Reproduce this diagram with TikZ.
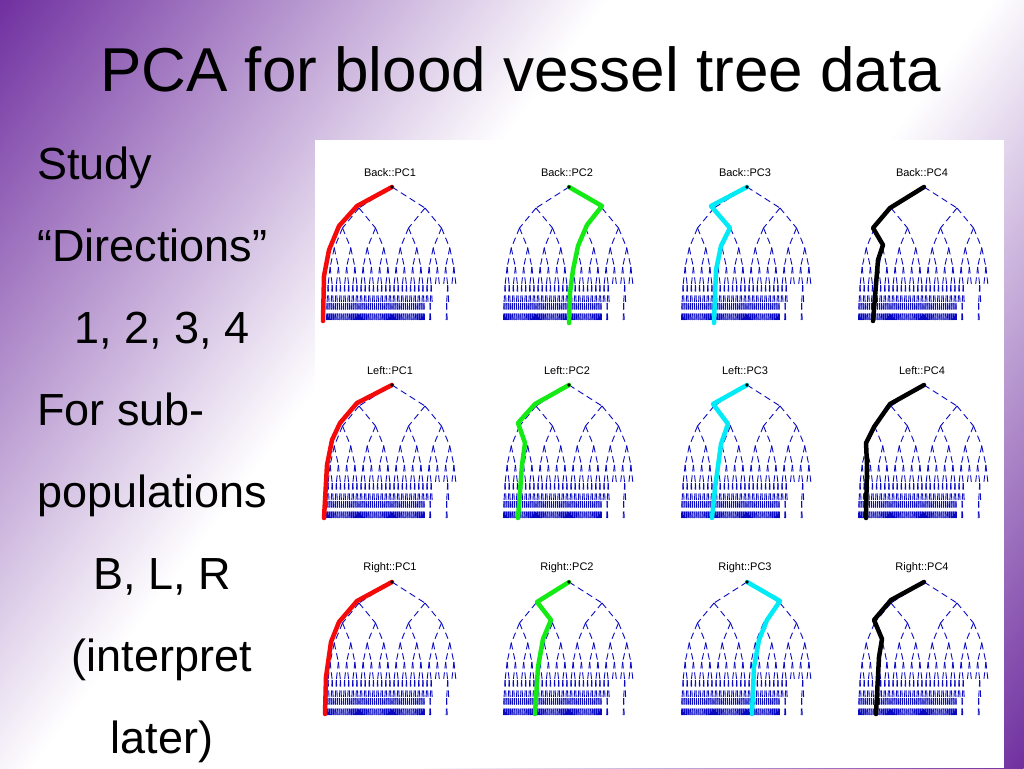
\documentclass[tikz,border=0pt]{standalone}
\usepackage{fontspec}
\setmainfont{Liberation Sans}
\definecolor{vpurple}{RGB}{112,48,160}
\definecolor{tblue}{RGB}{10,10,195}
\definecolor{pcred}{RGB}{245,10,10}
\definecolor{pcgreen}{RGB}{20,235,20}
\definecolor{pccyan}{RGB}{0,235,245}
\pgfdeclarehorizontalshading{bgshade}{100bp}{color(0bp)=(vpurple); color(25bp)=(vpurple); color(44bp)=(white); color(56bp)=(white); color(75bp)=(vpurple); color(100bp)=(vpurple)}
\tikzset{
  ptitle/.style={font=\fontsize{11}{12}\selectfont, inner sep=0pt, anchor=center},
  bigtext/.style={font=\fontsize{45}{50}\selectfont, inner sep=0pt},
  tline/.style={draw=tblue, line width=0.9pt, dash pattern=on 6.5pt off 4pt},
  pcline/.style={line width=4.5pt, line join=round, line cap=round}
}
% #1 x, #2 y, #3 name, #4 title, #5 colour, #6 path
\newcommand{\vtree}[6]{%
\begin{scope}[shift={(#1,#2)}]
  \node[ptitle] (#3) at (-2,-14) {#4};
  \foreach \lv/\ya/\yb in {1/0/21,2/21/41,3/41/61,4/61/80,5/80/98,6/98/116,7/116/134}{
    \pgfmathsetmacro{\tH}{66/2^\lv}
    \pgfmathsetmacro{\tS}{66*(1-2^(1-\lv))}
    \pgfmathsetmacro{\tP}{132/2^(\lv-1)}
    \pgfmathtruncatemacro{\tN}{2^(\lv-1)-1}
    \foreach \ix in {0,...,\tN}{
      \pgfmathtruncatemacro{\tok}{(\lv<6) || (\lv==6 && (\ix<=25 || \ix==29)) || (\lv==7 && (\ix<=47 || \ix==50 || \ix==58))}
      \ifnum\tok=1
        \pgfmathsetmacro{\tX}{-\tS+\ix*\tP}
        \draw[tline] (\tX,\ya) -- (\tX-\tH,\yb);
        \draw[tline] (\tX,\ya) -- (\tX+\tH,\yb);
      \fi
    }
  }
  \draw[pcline,draw=#5] #6;
  \fill (0,0) circle (1.8);
\end{scope}}
\begin{document}
\begin{tikzpicture}[x=1pt,y=-1pt]
\useasboundingbox (0,0) rectangle (1024,768);
\begin{scope}
  \clip (0,0) rectangle (1024,768);
  \begin{scope}[transform canvas={shift={(512,384)}, rotate=-36.87}]
    \shade[shading=bgshade] (-640,-700) rectangle (640,700);
  \end{scope}
\end{scope}
\node[font=\fontsize{62}{70}\selectfont, inner sep=0pt, anchor=base west] (title) at (100,91) {PCA for blood vessel tree data};
\node[bigtext, anchor=base west] (s1) at (37,179) {Study};
\node[bigtext, anchor=base west] (s2) at (37,261) {“Directions”};
\node[bigtext, anchor=base] (s3) at (162,343) {1, 2, 3, 4};
\node[bigtext, anchor=base west] (s4) at (37,425) {For sub-};
\node[bigtext, anchor=base west] (s5) at (37,507) {populations};
\node[bigtext, anchor=base] (s6) at (162,589) {B, L, R};
\node[bigtext, anchor=base] (s7) at (162,671) {(interpret};
\node[bigtext, anchor=base] (s8) at (162,753) {later)};
\fill[white] (315,140) rectangle (1004,768);
% row 1
\vtree{392}{187}{b1}{Back::PC1}{pcred}{(0,0) -- (-35,19) -- (-53,39) -- (-63,63) -- (-68,89) -- (-69,134)}
\vtree{569}{187}{b2}{Back::PC2}{pcgreen}{(0,0) -- (33,19) -- (18,38) -- (9,59) -- (4,83) -- (1,106) -- (0,136)}
\vtree{747}{187}{b3}{Back::PC3}{pccyan}{(0,0) -- (-36,19) -- (-17,41) -- (-26,59) -- (-31,83) -- (-33,136)}
\vtree{924}{187}{b4}{Back::PC4}{black}{(0,0) -- (-34,21) -- (-51,41) -- (-41,58) -- (-46,73) -- (-51,134)}
% row 2
\vtree{392}{385}{l1}{Left::PC1}{pcred}{(0,0) -- (-35,18) -- (-52,38) -- (-60,55) -- (-65,80) -- (-68,133)}
\vtree{569}{385}{l2}{Left::PC2}{pcgreen}{(0,0) -- (-34,19) -- (-51,38) -- (-44,58) -- (-47,80) -- (-51,133)}
\vtree{747}{385}{l3}{Left::PC3}{pccyan}{(0,0) -- (-34,19) -- (-19,39) -- (-26,59) -- (-32,103) -- (-35,133)}
\vtree{924}{385}{l4}{Left::PC4}{black}{(0,0) -- (-34,19) -- (-50,42) -- (-58,58) -- (-57,80) -- (-58,133)}
% row 3
\vtree{392}{582}{r1}{Right::PC1}{pcred}{(0,0) -- (-35,19) -- (-53,40) -- (-61,60) -- (-66,95) -- (-67,132)}
\vtree{569}{582}{r2}{Right::PC2}{pcgreen}{(0,0) -- (-32,20) -- (-18,38) -- (-26,57) -- (-31,85) -- (-34,132)}
\vtree{747}{582}{r3}{Right::PC3}{pccyan}{(0,0) -- (33,19) -- (20,38) -- (12,58) -- (7,85) -- (5,132)}
\vtree{924}{582}{r4}{Right::PC4}{black}{(0,0) -- (-33,18) -- (-50,38) -- (-42,57) -- (-45,75) -- (-48,132)}
\end{tikzpicture}
\end{document}
